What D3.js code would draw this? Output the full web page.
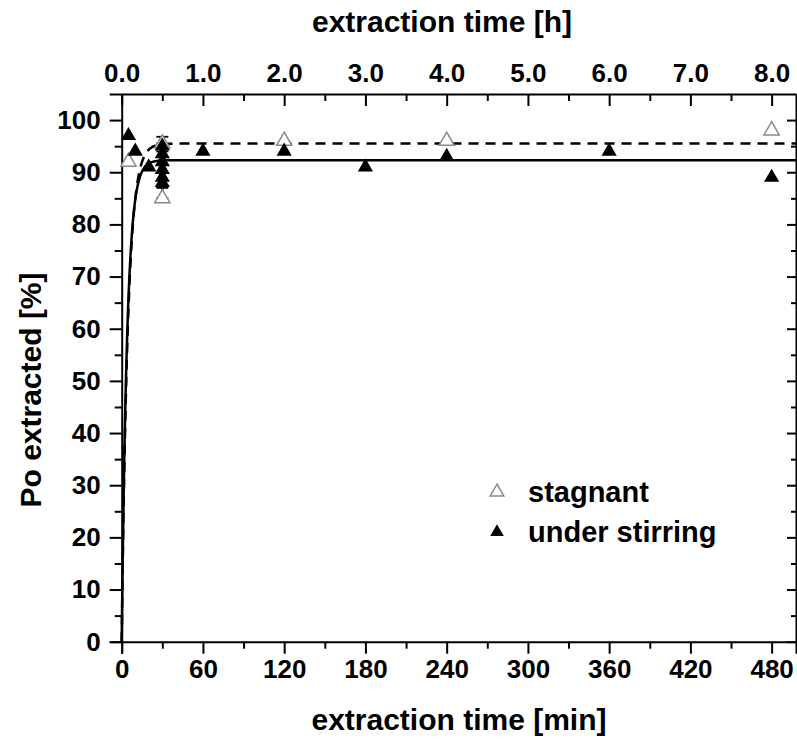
<!DOCTYPE html>
<html>
<head>
<meta charset="utf-8">
<script src="https://cdn.jsdelivr.net/npm/d3@7"></script>
<style>
  body { margin: 0; background: #fff; }
  svg text { font-family: "Liberation Sans", Arial, sans-serif; font-weight: bold; fill: #000; }
</style>
</head>
<body>
<svg id="chart" width="797" height="740"></svg>
<script>
// data (time in min, Po extracted in %)
const stagnantT = [5, 30, 30, 120, 240, 480]
const stagnantY = [92, 95.5, 85, 96, 96, 98]

const stirringT = [5, 10, 20, 30, 30, 30, 30, 30, 30, 60, 120, 180, 240, 360, 480]
const stirringY = [97, 94, 91, 95, 93.5, 92, 90.5, 89, 88, 94, 94, 91, 93, 94, 89]

// error bars on the 30 min replicates
const errT  = [30, 30, 30]
const errLo = [85, 84.3, 87]
const errHi = [96.8, 95.5, 94]

// fitted curves: plateau * (1 - exp(-k t))
const fitPlateau = { stirring: 92.3, stagnant: 95.5 }
const fitRate    = { stirring: 0.25, stagnant: 0.22 }

const minTicks   = [0, 60, 120, 180, 240, 300, 360, 420, 480]
const hourTicks  = [0, 1, 2, 3, 4, 5, 6, 7, 8]
const yTicks     = [0, 10, 20, 30, 40, 50, 60, 70, 80, 90, 100]

const svg = d3.select('#chart')

const pLeft = 121.7, pRight = 796, pTop = 94, pBottom = 641.7

const x = d3.scaleLinear().domain([0, 498]).range([pLeft, pRight])
const xh = d3.scaleLinear().domain([0, 8.3]).range([pLeft, pRight])
const y = d3.scaleLinear().domain([0, 105]).range([pBottom, pTop])

// minor ticks
const minorY = d3.range(5, 105, 10)
const minorX = d3.range(30, 498, 60)
const minorH = d3.range(0.5, 8.3, 1)

const axisStyle = g => {
  g.selectAll('path.domain').attr('stroke', '#000').attr('stroke-width', 2)
  g.selectAll('.tick line').attr('stroke', '#000').attr('stroke-width', 2)
  g.selectAll('text').attr('font-size', 26).attr('font-family', null)
}

// left
svg.append('g').attr('transform', `translate(${pLeft},0)`)
  .call(d3.axisLeft(y).tickValues(yTicks).tickSize(12).tickPadding(9))
  .call(axisStyle)
svg.append('g').attr('transform', `translate(${pLeft},0)`)
  .call(d3.axisLeft(y).tickValues(minorY).tickSize(7).tickFormat(''))
  .call(axisStyle).call(g => g.select('.domain').remove())

// bottom
svg.append('g').attr('transform', `translate(0,${pBottom})`)
  .call(d3.axisBottom(x).tickValues(minTicks).tickSize(12).tickPadding(6))
  .call(axisStyle)
svg.append('g').attr('transform', `translate(0,${pBottom})`)
  .call(d3.axisBottom(x).tickValues(minorX).tickSize(7).tickFormat(''))
  .call(axisStyle).call(g => g.select('.domain').remove())

// top (hours), ticks inward
svg.append('g').attr('transform', `translate(0,${pTop})`)
  .call(d3.axisTop(xh).tickValues(hourTicks).tickSizeInner(-12).tickSizeOuter(0)
    .tickPadding(12).tickFormat(d3.format('.1f')))
  .call(axisStyle)
svg.append('g').attr('transform', `translate(0,${pTop})`)
  .call(d3.axisTop(xh).tickValues(minorH).tickSizeInner(-7).tickFormat(''))
  .call(axisStyle).call(g => g.select('.domain').remove())

// right, ticks inward, no labels
svg.append('g').attr('transform', `translate(${pRight},0)`)
  .call(d3.axisRight(y).tickValues(yTicks).tickSizeInner(-9).tickSizeOuter(0).tickFormat(''))
  .call(axisStyle)
svg.append('g').attr('transform', `translate(${pRight},0)`)
  .call(d3.axisRight(y).tickValues(minorY).tickSizeInner(-5).tickFormat(''))
  .call(axisStyle).call(g => g.select('.domain').remove())

// fit curves
const curveT = d3.range(0, 498.5, 0.25)
const line = d3.line().x(d => x(d[0])).y(d => y(d[1]))
const fit = key => curveT.map(t => [t, fitPlateau[key] * (1 - Math.exp(-fitRate[key] * t))])

svg.append('path').datum(fit('stagnant'))
  .attr('d', line).attr('fill', 'none').attr('stroke', '#000')
  .attr('stroke-width', 2.5).attr('stroke-dasharray', '10,7')
svg.append('path').datum(fit('stirring'))
  .attr('d', line).attr('fill', 'none').attr('stroke', '#000')
  .attr('stroke-width', 2.5)

// error bars
const eb = svg.append('g').attr('stroke', '#000').attr('stroke-width', 1.8)
errT.forEach((t, i) => {
  eb.append('line').attr('x1', x(t)).attr('x2', x(t)).attr('y1', y(errLo[i])).attr('y2', y(errHi[i]))
  eb.append('line').attr('x1', x(t) - 6).attr('x2', x(t) + 6).attr('y1', y(errLo[i])).attr('y2', y(errLo[i]))
  eb.append('line').attr('x1', x(t) - 6).attr('x2', x(t) + 6).attr('y1', y(errHi[i])).attr('y2', y(errHi[i]))
})

const tri = d3.symbol().type(d3.symbolTriangle).size(100)

// stagnant: open grey triangles
svg.append('g').selectAll('path')
  .data(stagnantT.map((t, i) => [t, stagnantY[i]]))
  .join('path')
  .attr('d', tri)
  .attr('transform', d => `translate(${x(d[0])},${y(d[1])})`)
  .attr('fill', '#fff').attr('stroke', '#8a8a8a').attr('stroke-width', 1.5)

// under stirring: filled black triangles
svg.append('g').selectAll('path')
  .data(stirringT.map((t, i) => [t, stirringY[i]]))
  .join('path')
  .attr('d', tri)
  .attr('transform', d => `translate(${x(d[0])},${y(d[1])})`)
  .attr('fill', '#000')

// axis titles
svg.append('text').attr('x', 442).attr('y', 32).attr('text-anchor', 'middle')
  .attr('font-size', 30).text('extraction time [h]')
svg.append('text').attr('x', 459).attr('y', 730).attr('text-anchor', 'middle')
  .attr('font-size', 30).text('extraction time [min]')
svg.append('text').attr('transform', 'translate(41,390) rotate(-90)').attr('text-anchor', 'middle')
  .attr('font-size', 30).text('Po extracted [%]')

// legend
const legendItems = ['stagnant', 'under stirring']
const legend = svg.append('g')
legendItems.forEach((name, i) => {
  const ly = 492 + i * 40
  legend.append('path').attr('d', d3.symbol().type(d3.symbolTriangle).size(80)())
    .attr('transform', `translate(497,${ly})`)
    .attr('fill', i === 0 ? '#fff' : '#000')
    .attr('stroke', i === 0 ? '#8a8a8a' : 'none').attr('stroke-width', 1.5)
  legend.append('text').attr('x', 528).attr('y', ly + 10).attr('font-size', 29).text(name)
})
</script>
</body>
</html>
